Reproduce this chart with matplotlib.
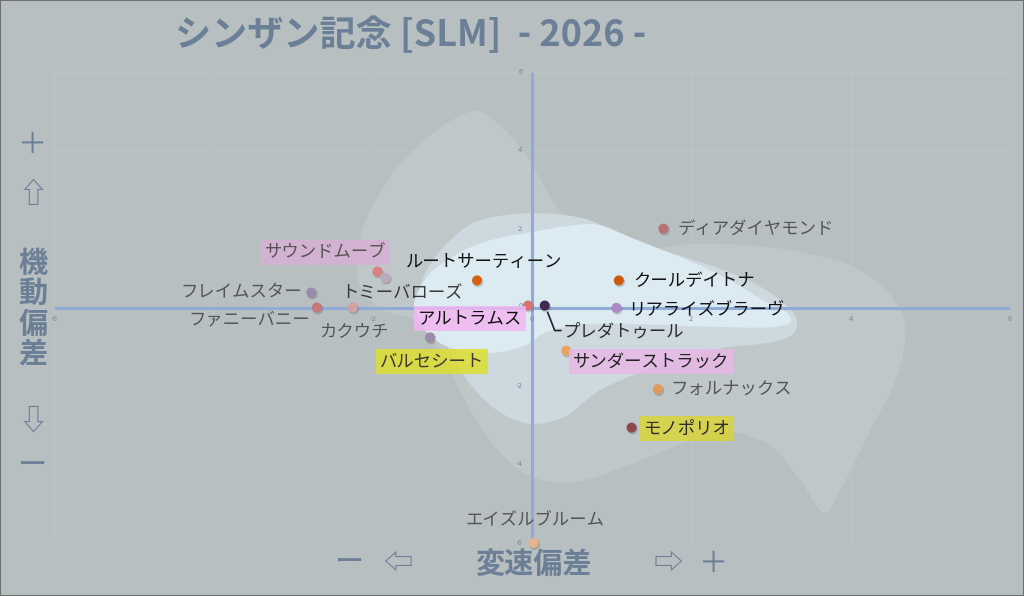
import numpy as np
import matplotlib
matplotlib.use('Agg')
import matplotlib.pyplot as plt
from matplotlib.path import Path
from matplotlib.patches import PathPatch, Rectangle
from matplotlib.lines import Line2D
import matplotlib.transforms as mtransforms

plt.rcParams['font.family'] = ['Noto Sans CJK JP', 'DejaVu Sans']

# --- data ---
names = ['ディアダイヤモンド', 'クールデイトナ', 'リアライズブラーヴ', 'プレダトゥール',
         'アルトラムス', 'ルートサーティーン', 'サウンドムーブ', 'トミーバローズ',
         'フレイムスター', 'ファニーバニー', 'カクウチ', 'バルセシート',
         'サンダーストラック', 'フォルナックス', 'モノポリオ', 'エイズルブルーム']
speed_dev = [1.65, 1.09, 1.06, 0.16, -0.05, -0.69, -1.94, -1.84,
             -2.77, -2.70, -2.25, -1.28, 0.43, 1.58, 1.25, 0.02]
mobility_dev = [2.01, 0.69, -0.01, 0.05, 0.05, 0.69, 0.92, 0.76,
                0.38, 0.0, 0.0, -0.76, -1.10, -2.08, -3.06, -6.0]
dot_colors = ['#b87474', '#cc5a0c', '#a98ac2', '#3f2a4e', '#d87272', '#d8600e',
              '#d88282', '#baaac4', '#9a8aaa', '#c87878', '#d2a2a2', '#9c8aaa',
              '#e8a262', '#e09a5a', '#8c4a4a', '#e8b28a']
text_colors = ['#555555', '#111111', '#111111', '#2e2e2e', '#111111', '#111111',
               '#555555', '#383838', '#555555', '#555555', '#555555', '#383838',
               '#222222', '#555555', '#2e2e2e', '#555555']
box_colors = [None, None, None, None, '#f2b6f2', None, '#d8b0d4', None,
              None, None, None, '#dede30', '#e8b8e6', None, '#d8d43a', None]

# label placement (pixel offsets from dot, horizontal alignment)
label_dx = [14, 14, 12, 18, -6, 7, -52, 17, -9, -7, 1, 2, 7, 13, 11, 1]
label_dy = [0, -1, -1, -26, -13, 18, 19, -16, 0, -12, -24, -24, -11, 0, -1, 23]
label_ha = ['left', 'left', 'left', 'left', 'right', 'center', 'center', 'center',
            'right', 'right', 'center', 'center', 'left', 'left', 'left', 'center']

# density regions (outline vertices in data units)
outer_x = [-0.62, -0.21, 0.10, 0.35, 0.73, 1.36, 2.11, 3.12, 4.0, 4.5, 4.69, 4.56,
           4.25, 3.87, 3.66, 3.37, 2.99, 2.49, 1.98, 1.36, 0.73, 0.29, -0.15,
           -0.53, -0.84, -1.16, -1.47, -1.85, -2.14, -2.20, -2.06, -1.72, -1.28, -0.90]
outer_y = [4.97, 4.25, 3.29, 2.47, 1.91, 1.50, 1.63, 1.50, 1.07, 0.31, -0.59, -1.86,
           -3.13, -4.66, -5.22, -4.41, -3.52, -3.18, -3.39, -3.90, -4.36, -4.46, -4.15,
           -3.39, -2.37, -1.10, -0.33, -0.08, 0.43, 1.32, 2.34, 3.49, 4.38, 4.89]
mid_x = [-1.41, -1.26, -1.03, -0.72, -0.28, 0.23, 0.73, 1.23, 1.86, 2.49, 2.99, 3.30,
         3.28, 2.99, 2.36, 1.86, 1.36, 0.85, 0.41, -0.03, -0.44, -0.78, -1.03, -1.28]
mid_y = [0.43, 1.15, 1.71, 2.17, 2.37, 2.39, 2.22, 1.71, 1.32, 0.89, 0.38, -0.20,
         -0.66, -0.89, -1.04, -1.30, -1.66, -2.11, -2.78, -2.96, -2.62, -1.94, -1.10, -0.33]
inner_x = [-1.47, -1.44, -1.28, -1.07, -0.78, -0.44, -0.03, 0.39, 0.82, 1.27, 2.11,
           2.53, 2.86, 3.18, 3.24, 2.93, 2.11, 0.85, 0.23, -0.09, -0.46, -0.90, -1.26]
inner_y = [-0.08, 0.36, 0.87, 1.20, 1.53, 1.76, 1.91, 2.06, 2.11, 1.76, 1.07,
           0.64, 0.23, -0.10, -0.38, -0.51, -0.48, -0.41, -0.59, -0.97, -1.15, -1.10, -0.76]

ticks = [-6, -4, -2, 2, 4, 6]

BG = '#b8bfc1'
AXIS_TEXT = '#6b7f96'


def smooth_closed(xs, ys):
    # closed Catmull-Rom outline drawn as cubic Bezier segments
    p = np.column_stack([xs, ys])
    n = len(p)
    verts = [p[0]]
    codes = [Path.MOVETO]
    for i in range(n):
        p0, p1, p2, p3 = p[i - 1], p[i], p[(i + 1) % n], p[(i + 2) % n]
        verts += [p1 + (p2 - p0) / 6, p2 - (p3 - p1) / 6, p2]
        codes += [Path.CURVE4] * 3
    return Path(verts, codes)


fig = plt.figure(figsize=(10.24, 5.96), dpi=100, facecolor=BG)
ax = fig.add_axes([54 / 1024, 53 / 596, 956 / 1024, 471 / 596])
ax.set_facecolor(BG)
ax.set_xlim(-6, 6)
ax.set_ylim(-6, 6)
for s in ax.spines.values():
    s.set_visible(False)
ax.set_xticks([])
ax.set_yticks([])

# density regions
ax.add_patch(PathPatch(smooth_closed(outer_x, outer_y), facecolor='#c0c7c9', edgecolor='none', zorder=1))
ax.add_patch(PathPatch(smooth_closed(mid_x, mid_y), facecolor='#cdd9de', edgecolor='none', zorder=1.1))
ax.add_patch(PathPatch(smooth_closed(inner_x, inner_y), facecolor='#dbebf1', edgecolor='none', zorder=1.2))

# faint grid
for t in ticks:
    ax.axvline(t, color='#c0c6c8', lw=0.6, zorder=0.5)
    ax.axhline(t, color='#c0c6c8', lw=0.6, zorder=0.5)

# center axes
ax.plot([0, 0], [-6, 6], color='#8fabd6', lw=2.2, zorder=2, solid_capstyle='butt')
ax.plot([-6, 6], [0, 0], color='#8fabd6', lw=2.2, zorder=2, solid_capstyle='butt')

# tick labels
for t in ticks:
    ax.text(t, -0.3, str(t), fontsize=5.5, color='#7a8aa0', ha='center', va='center', zorder=3)
    ax.text(-0.12, t, str(t), fontsize=5.5, color='#7a8aa0', ha='right', va='center', zorder=3)
ax.text(-0.12, 0.05, '0', fontsize=5.5, color='#7a8aa0', ha='right', va='center', zorder=3)
ax.text(0.0, -0.3, '0', fontsize=5.5, color='#7a8aa0', ha='center', va='center', zorder=3)

# dots with a soft shadow
shadow = mtransforms.offset_copy(ax.transData, fig=fig, x=1, y=-1.5, units='dots')
ax.scatter(speed_dev, mobility_dev, s=60, color='#00000028', edgecolors='none',
           transform=shadow, zorder=4, clip_on=False)
ax.scatter(speed_dev, mobility_dev, s=52, c=dot_colors, edgecolors='none', zorder=5, clip_on=False)

# labels
for i, name in enumerate(names):
    bbox = None
    if box_colors[i]:
        bbox = dict(boxstyle='square,pad=0.22', facecolor=box_colors[i], edgecolor='none', alpha=0.85)
    ax.annotate(name, (speed_dev[i], mobility_dev[i]), xytext=(label_dx[i], label_dy[i]),
                textcoords='offset pixels', ha=label_ha[i], va='center', fontsize=12.5,
                color=text_colors[i], bbox=bbox, zorder=6, annotation_clip=False)

# leader line for the crowded label near the origin
k = names.index('プレダトゥール')
px, py = ax.transData.transform((speed_dev[k], mobility_dev[k]))
leader = Line2D([px + 3, px + 10, px + 16], [py - 7, py - 25, py - 25],
                transform=mtransforms.IdentityTransform(), color='#222222', lw=1.2, zorder=6)
fig.add_artist(leader)

# title
fig.text(175 / 1024, 1 - 35 / 596, 'シンザン記念 [SLM]  - 2026 -', fontsize=26, fontweight='bold',
         color=AXIS_TEXT, ha='left', va='center')

# vertical axis caption
left_chars = ['＋', '⇧', '機', '動', '偏', '差', '⇩', 'ー']
left_ys = [145, 195, 263, 293, 324, 354, 422, 467]
left_bold = [False, False, True, True, True, True, False, False]
for ch, py, b in zip(left_chars, left_ys, left_bold):
    fig.text(33 / 1024, 1 - py / 596, ch, fontsize=21, color=AXIS_TEXT, ha='center', va='center',
             fontweight='bold' if b else 'normal')

# horizontal axis caption
bottom_chars = ['ー', '⇦', '変速偏差', '⇨', '＋']
bottom_xs = [350, 398, 533, 668, 714]
bottom_bold = [False, False, True, False, False]
for ch, px_, b in zip(bottom_chars, bottom_xs, bottom_bold):
    fig.text(px_ / 1024, 1 - 564 / 596, ch, fontsize=21, color=AXIS_TEXT, ha='center', va='center',
             fontweight='bold' if b else 'normal')

# outer frame
fig.patches.append(Rectangle((0, 0), 1, 1, transform=fig.transFigure, fill=False,
                             edgecolor='#707070', lw=1.5))

fig.savefig('out.png', dpi=100, facecolor=BG)
